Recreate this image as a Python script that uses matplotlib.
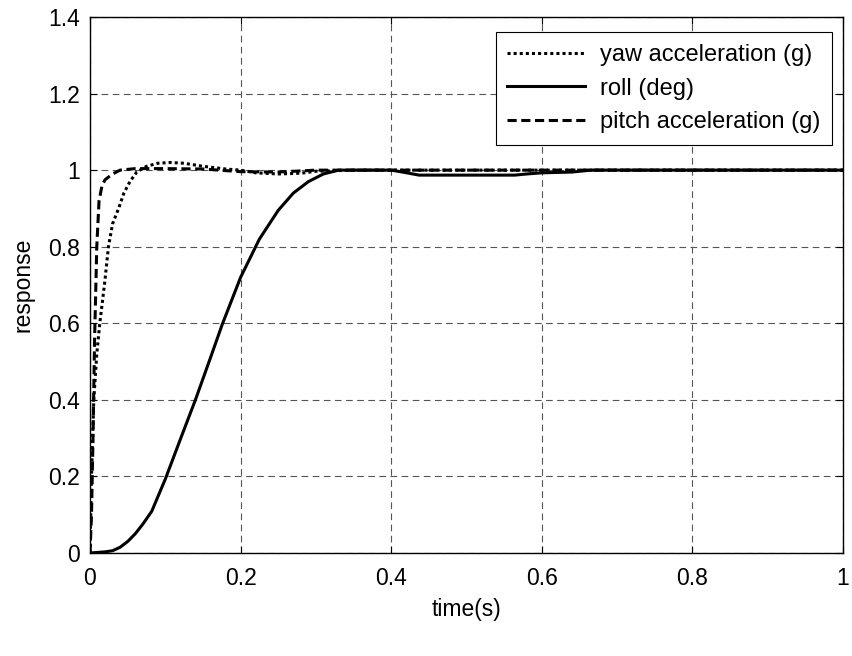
import matplotlib
matplotlib.use("Agg")
import matplotlib.pyplot as plt

plt.rcParams['font.family'] = ['Liberation Sans', 'DejaVu Sans']

# yaw acceleration (g) - dotted
yaw_t = [0, 0.001, 0.002, 0.005, 0.009, 0.013, 0.017, 0.02, 0.0245, 0.03, 0.038, 0.045,
         0.053, 0.062, 0.075, 0.09, 0.107, 0.125, 0.15, 0.18, 0.2, 0.22, 0.25, 0.28, 0.3, 0.35, 1.0]
yaw_y = [0, 0.1, 0.2, 0.4, 0.52, 0.6, 0.665, 0.715, 0.8, 0.86, 0.9, 0.94,
         0.97, 0.995, 1.01, 1.018, 1.02, 1.018, 1.01, 1.003, 1.0, 0.993, 0.99, 0.992, 0.997, 1.0, 1.0]

# roll (deg) - solid
roll_t = [0, 0.02, 0.03, 0.04, 0.05, 0.06, 0.07, 0.082, 0.1, 0.12, 0.14, 0.16, 0.1756, 0.2,
          0.225, 0.25, 0.27, 0.29, 0.31, 0.33, 0.4, 0.415, 0.437, 0.564, 0.58, 0.6,
          0.64, 0.665, 1.0]
roll_y = [0, 0.003, 0.006, 0.015, 0.03, 0.05, 0.075, 0.109, 0.193, 0.297, 0.4, 0.51, 0.597, 0.72,
          0.82, 0.895, 0.94, 0.97, 0.99, 1.0, 1.0, 0.995, 0.987, 0.987, 0.99, 0.993,
          0.995, 1.0, 1.0]

# pitch acceleration (g) - dashed
pitch_t = [0, 0.002, 0.004, 0.006, 0.009, 0.012, 0.016, 0.02, 0.03, 0.04, 0.06, 0.1, 0.15,
           0.2, 0.25, 0.3, 0.35, 1.0]
pitch_y = [0, 0.1, 0.3, 0.55, 0.8, 0.92, 0.96, 0.975, 0.99, 1.0, 1.004, 1.004, 1.003,
           0.996, 0.995, 1.0, 1.0, 1.0]

xticks = [0, 0.2, 0.4, 0.6, 0.8, 1]
xticklabels = ['0', '0.2', '0.4', '0.6', '0.8', '1']
yticks = [0, 0.2, 0.4, 0.6, 0.8, 1, 1.2, 1.4]
yticklabels = ['0', '0.2', '0.4', '0.6', '0.8', '1', '1.2', '1.4']

fs = 16.5
fs_leg = 17

fig = plt.figure(figsize=(8.53, 6.56), dpi=100)
ax = fig.add_axes([90/853, 1-553/656, (843-90)/853, (553-17)/656])

lw = 2.2
ax.plot(yaw_t, yaw_y, color='black', linestyle=(0, (1, 1)), linewidth=lw, label='yaw acceleration (g)')
ax.plot(roll_t, roll_y, color='black', linestyle='-', linewidth=lw, label='roll (deg)')
ax.plot(pitch_t, pitch_y, color='black', linestyle=(0, (3, 1.5)), linewidth=lw, label='pitch acceleration (g)')

ax.set_xlim(0, 1)
ax.set_ylim(0, 1.4)
ax.set_xticks(xticks)
ax.set_xticklabels(xticklabels)
ax.set_yticks(yticks)
ax.set_yticklabels(yticklabels)
ax.tick_params(direction='in', top=True, right=True, labelsize=fs, length=5, width=0.8)
ax.tick_params(axis='x', pad=10)
ax.tick_params(axis='y', pad=7)
ax.grid(True, color='#555555', linestyle=(0, (6, 4)), linewidth=0.8)
for s in ax.spines.values():
    s.set_linewidth(1.0)

ax.set_xlabel('time(s)', fontsize=fs, labelpad=6)
ax.set_ylabel('response', fontsize=fs, labelpad=10)

leg = ax.legend(loc='upper right', bbox_to_anchor=(0.985, 0.972), fontsize=fs_leg, frameon=True,
                fancybox=False, edgecolor='black', framealpha=1, borderaxespad=0.0,
                handlelength=3.3, borderpad=0.5, labelspacing=0.5, handletextpad=0.6)
leg.get_frame().set_linewidth(0.8)

fig.savefig('out.png', dpi=100)
